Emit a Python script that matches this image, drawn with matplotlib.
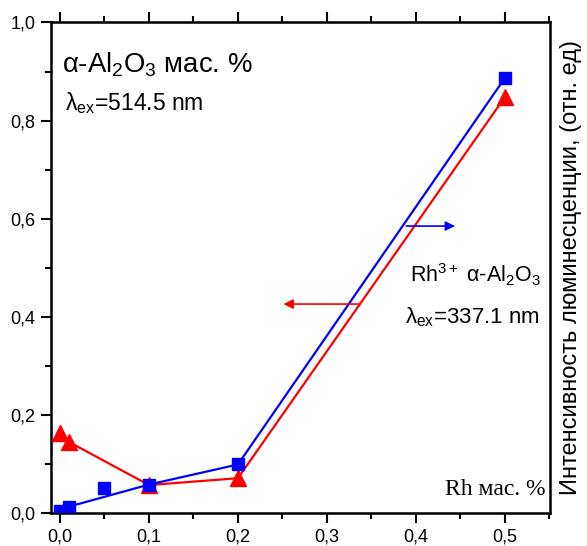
import numpy as np
import matplotlib
matplotlib.use("Agg")
import matplotlib.pyplot as plt
from matplotlib.ticker import MultipleLocator, FuncFormatter

plt.rcParams['font.family'] = ['Liberation Sans', 'DejaVu Sans']
plt.rcParams['mathtext.fontset'] = 'custom'
plt.rcParams['mathtext.rm'] = 'Liberation Sans'
plt.rcParams['mathtext.it'] = 'Liberation Sans'

# blue squares (Rh3+, lambda_ex = 514.5 nm)
blue_x = [0.0, 0.01, 0.05, 0.1, 0.2, 0.5]
blue_y = [0.005, 0.013, 0.052, 0.058, 0.099, 0.887]
blue_line_x = [0.01, 0.1, 0.2, 0.5]
blue_line_y = [0.013, 0.058, 0.099, 0.887]

# red triangles (lambda_ex = 337.1 nm)
red_x = [0.0, 0.01, 0.1, 0.2, 0.5]
red_y = [0.163, 0.145, 0.057, 0.071, 0.848]
red_line_x = [0.01, 0.1, 0.2, 0.5]
red_line_y = [0.145, 0.057, 0.071, 0.848]

BLUE = '#0000ff'
RED = '#ff0000'

fig = plt.figure(figsize=(5.87, 5.46), dpi=100)
ax = fig.add_axes([0.0869, 0.0604, 0.8501, 0.8984])

ax.plot(red_line_x, red_line_y, color=RED, lw=1.6, zorder=2)
ax.plot(blue_line_x, blue_line_y, color=BLUE, lw=1.6, zorder=2)
ax.plot(red_x, red_y, ls='none', marker='^', ms=11, color=RED, zorder=3)
ax.plot(blue_x, blue_y, ls='none', marker='s', ms=9, color=BLUE, zorder=4)

# arrows pointing to the corresponding axes
ax.annotate('', xy=(0.447, 0.585), xytext=(0.386, 0.585),
            arrowprops=dict(arrowstyle='-|>', color=BLUE, lw=1.2, mutation_scale=14))
ax.annotate('', xy=(0.248, 0.426), xytext=(0.34, 0.426),
            arrowprops=dict(arrowstyle='-|>', color=RED, lw=1.2, mutation_scale=14))

ax.set_xlim(-0.0101, 0.5507)
ax.set_ylim(0, 1.0)

ax.xaxis.set_major_locator(MultipleLocator(0.1))
ax.xaxis.set_minor_locator(MultipleLocator(0.05))
ax.yaxis.set_major_locator(MultipleLocator(0.2))
ax.yaxis.set_minor_locator(MultipleLocator(0.1))
fmt = FuncFormatter(lambda v, p: ('%.1f' % v).replace('.', ','))
ax.xaxis.set_major_formatter(fmt)
ax.yaxis.set_major_formatter(fmt)

ax.tick_params(which='both', direction='out', top=True, right=True,
               labelsize=13, width=1.5, pad=4)
ax.tick_params(which='major', length=7)
ax.tick_params(which='minor', length=4)
for s in ax.spines.values():
    s.set_linewidth(1.8)

ax2 = ax.twinx()
ax2.set_ylim(0, 1.0)
ax2.set_yticks([])
ax2.spines['right'].set_visible(False)
ax2.set_ylabel('Интенсивность люминесценции, (отн. ед)', fontsize=17, labelpad=7)

ax.text(0.002, 0.898, 'α-Al$_2$O$_3$ мас. %', fontsize=19.8, ha='left', va='baseline')
ax.text(0.006, 0.821, 'λ$_{\\rm ex}$=514.5 nm', fontsize=16.5, ha='left', va='baseline')
ax.text(0.467, 0.470, 'Rh$^{3+}$ α-Al$_2$O$_3$', fontsize=15.5, ha='center', va='baseline')
ax.text(0.463, 0.387, 'λ$_{\\rm ex}$=337.1 nm', fontsize=16, ha='center', va='baseline')
ax.text(0.546, 0.037, 'Rh мас. %', fontsize=17, family='Liberation Serif', ha='right', va='baseline')

fig.savefig('out.png', dpi=100)
